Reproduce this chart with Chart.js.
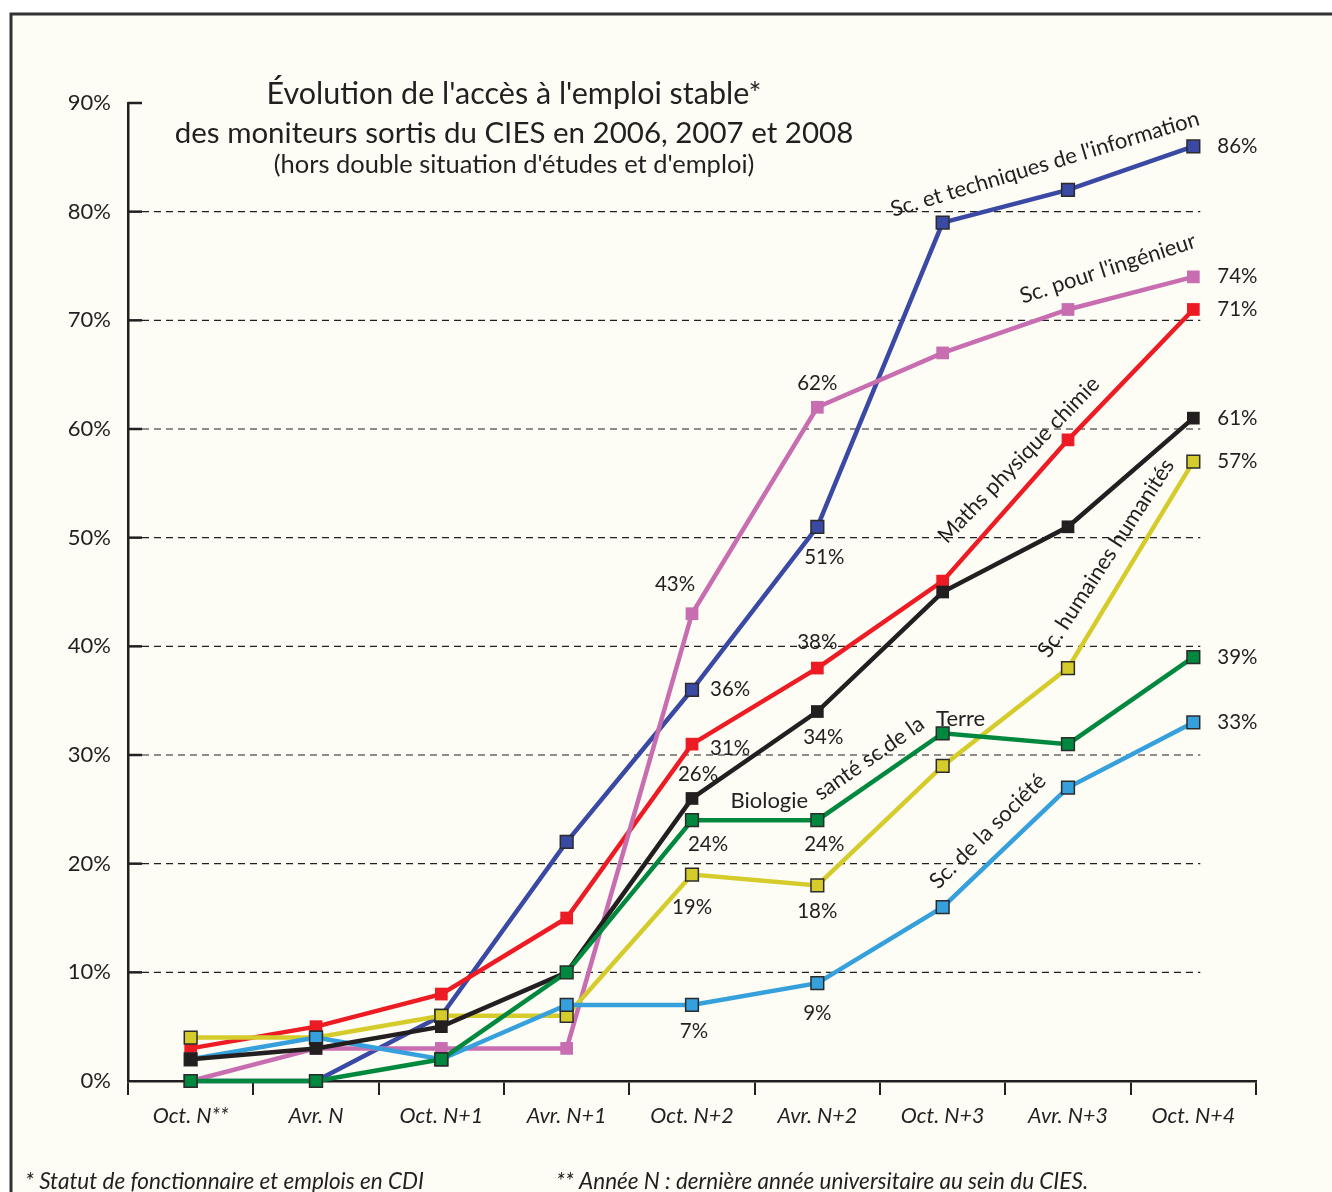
<!DOCTYPE html>
<html>
<head>
<meta charset="utf-8">
<script src="https://cdn.jsdelivr.net/npm/chart.js@4.4.1/dist/chart.umd.min.js"></script>
<style>
  body { margin: 0; background: #fff; }
  #chart { display: block; }
</style>
</head>
<body>
<canvas id="chart" width="1332" height="1192"></canvas>
<script>
// Data
const categories = ['Oct. N**', 'Avr. N', 'Oct. N+1', 'Avr. N+1', 'Oct. N+2', 'Avr. N+2', 'Oct. N+3', 'Avr. N+3', 'Oct. N+4'];
const yTicks = [0, 10, 20, 30, 40, 50, 60, 70, 80, 90];

const information = [0, 0, 6, 22, 36, 51, 79, 82, 86];
const ingenieur = [0, 3, 3, 3, 43, 62, 67, 71, 74];
const mathsPhysique = [3, 5, 8, 15, 31, 38, 46, 59, 71];
const ensemble = [2, 3, 5, 10, 26, 34, 45, 51, 61];
const humaines = [4, 4, 6, 6, 19, 18, 29, 38, 57];
const biologie = [0, 0, 2, 10, 24, 24, 32, 31, 39];
const societe = [2, 4, 2, 7, 7, 9, 16, 27, 33];

const INK = '#231f20';
const FONT = 'Lato, "Open Sans", sans-serif';

function series(data, color, outlined) {
    return {
        data: data,
        borderColor: color,
        backgroundColor: color,
        borderWidth: 4.5,
        pointStyle: 'rect',
        pointRadius: 9,
        pointHoverRadius: 9,
        pointBackgroundColor: color,
        pointBorderColor: outlined ? '#2b2b2b' : color,
        pointBorderWidth: outlined ? 1.5 : 0,
        tension: 0,
        clip: false
    };
}

// dataset 0 is drawn on top
const datasets = [
    series(biologie, '#00893e', true),      // 0
    series(ensemble, INK, false),           // 1
    series(societe, '#35a0db', true),       // 2
    series(humaines, '#d5cc2b', true),      // 3
    series(ingenieur, '#c86db0', false),    // 4
    series(mathsPhysique, '#ed1c24', false),// 5
    series(information, '#3a49a3', true)    // 6
];

// value labels: [dataset, index, dx, dy, align]
const valueLabels = [
    [6, 8, 24, 0, 'left'], [6, 5, 7, 31, 'center'], [6, 4, 18, 0, 'left'],
    [4, 8, 24, 0, 'left'], [4, 5, 0, -24, 'center'], [4, 4, -17, -29, 'center'],
    [5, 8, 24, 0, 'left'], [5, 5, 0, -26, 'center'], [5, 4, 18, 4, 'left'],
    [1, 8, 24, 0, 'left'], [1, 5, 6, 26, 'center'], [1, 4, 6, -24, 'center'],
    [3, 8, 24, 0, 'left'], [3, 4, 0, 33, 'center'], [3, 5, 0, 26, 'center'],
    [0, 8, 24, 0, 'left'], [0, 4, 16, 24, 'center'], [0, 5, 7, 24, 'center'],
    [2, 8, 24, 0, 'left'], [2, 4, 2, 26, 'center'], [2, 5, 0, 30, 'center']
];

// series names along the lines: [text, dataset, index, dx, dy, angle]
const seriesLabels = [
    ["Sc. et techniques de l'information", 6, 7, -21, -19, -16.7],
    ["Sc. pour l'ingénieur", 4, 7, 42, -34, -18],
    ['Maths physique chimie', 5, 7, -44, 25, -46],
    ['Sc. humaines humanités', 3, 7, 44, -106, -57],
    ['Biologie', 0, 5, -48, -12, 0],
    ['santé sc.de la', 0, 5, 56, -56, -35],
    ['Terre', 0, 6, 18, -7, 0],
    ['Sc. de la société', 2, 6, 50, -71, -44.7]
];

const titleLines = [
    ["Évolution de l'accès à l'emploi stable*", 30.5, 104],
    ['des moniteurs sortis du CIES en 2006, 2007 et 2008', 29.5, 143],
    ["(hors double situation d'études et d'emploi)", 25.5, 173]
];
const footnotes = [
    ['* Statut de fonctionnaire et emplois en CDI', 25],
    ['** Année N : dernière année universitaire au sein du CIES.', 556]
];

const decor = {
    id: 'decor',
    beforeDraw(chart) {
        const ctx = chart.ctx;
        ctx.save();
        ctx.fillStyle = '#ffffff';
        ctx.fillRect(0, 0, chart.width, chart.height);
        ctx.fillStyle = '#fdfdf5';
        ctx.fillRect(11, 14, chart.width - 11, chart.height - 14);
        ctx.strokeStyle = '#333';
        ctx.lineWidth = 3;
        ctx.beginPath();
        ctx.moveTo(11, chart.height);
        ctx.lineTo(11, 14);
        ctx.lineTo(chart.width, 14);
        ctx.stroke();
        ctx.restore();
    },
    beforeDatasetsDraw(chart) {
        const ctx = chart.ctx;
        const x = chart.scales.x, y = chart.scales.y;
        const left = chart.chartArea.left;
        const gridEnd = x.getPixelForValue(categories.length - 1) + 7;
        ctx.save();
        ctx.strokeStyle = INK;
        yTicks.forEach(v => {
            if (v === 0) return;
            const py = y.getPixelForValue(v);
            if (v < 90) {
                ctx.lineWidth = 1.2;
                ctx.setLineDash([7, 5]);
                ctx.beginPath();
                ctx.moveTo(left + 14, py);
                ctx.lineTo(gridEnd, py);
                ctx.stroke();
            }
            ctx.setLineDash([]);
            ctx.lineWidth = 2.5;
            ctx.beginPath();
            ctx.moveTo(left, py);
            ctx.lineTo(left + 14, py);
            ctx.stroke();
        });
        // title
        ctx.fillStyle = INK;
        ctx.textAlign = 'center';
        ctx.textBaseline = 'alphabetic';
        titleLines.forEach(([t, size, by]) => {
            ctx.font = size + 'px ' + FONT;
            ctx.fillText(t, 514, by);
        });
        // footnotes
        ctx.textAlign = 'left';
        ctx.font = 'italic 22.5px ' + FONT;
        footnotes.forEach(([t, fx]) => ctx.fillText(t, fx, 1189));
        ctx.restore();
    },
    afterDatasetsDraw(chart) {
        const ctx = chart.ctx;
        ctx.save();
        ctx.fillStyle = INK;
        ctx.font = '20.5px ' + FONT;
        ctx.textBaseline = 'middle';
        valueLabels.forEach(([d, i, dx, dy, align]) => {
            const pt = chart.getDatasetMeta(d).data[i];
            ctx.textAlign = align;
            ctx.fillText(chart.data.datasets[d].data[i] + '%', pt.x + dx, pt.y + dy);
        });
        ctx.font = '22px ' + FONT;
        ctx.textAlign = 'center';
        ctx.textBaseline = 'alphabetic';
        seriesLabels.forEach(([t, d, i, dx, dy, ang]) => {
            const pt = chart.getDatasetMeta(d).data[i];
            ctx.save();
            ctx.translate(pt.x + dx, pt.y + dy);
            ctx.rotate(ang * Math.PI / 180);
            ctx.fillText(t, 0, 0);
            ctx.restore();
        });
        ctx.restore();
    }
};

new Chart(document.getElementById('chart'), {
    type: 'line',
    data: { labels: categories, datasets: datasets },
    plugins: [decor],
    options: {
        responsive: false,
        animation: false,
        events: [],
        layout: { padding: { left: 0, top: 103, right: 76, bottom: 0 } },
        plugins: {
            legend: { display: false },
            title: { display: false },
            tooltip: { enabled: false }
        },
        scales: {
            x: {
                offset: true,
                grid: {
                    display: true,
                    offset: true,
                    drawOnChartArea: false,
                    drawTicks: true,
                    tickLength: 14,
                    color: INK,
                    lineWidth: 2
                },
                border: { display: true, color: INK, width: 2.5 },
                ticks: {
                    color: INK,
                    padding: 8,
                    maxRotation: 0,
                    autoSkip: false,
                    font: { family: FONT, size: 21.5, style: 'italic' }
                },
                afterFit(scale) { scale.height = 111; }
            },
            y: {
                min: 0,
                max: 90,
                grid: { display: false },
                border: { display: true, color: INK, width: 2.5 },
                ticks: {
                    stepSize: 10,
                    color: INK,
                    padding: 9,
                    font: { family: FONT, size: 22 },
                    callback: v => v + '%'
                },
                afterFit(scale) { scale.width = 128; }
            }
        }
    }
});
</script>
</body>
</html>
